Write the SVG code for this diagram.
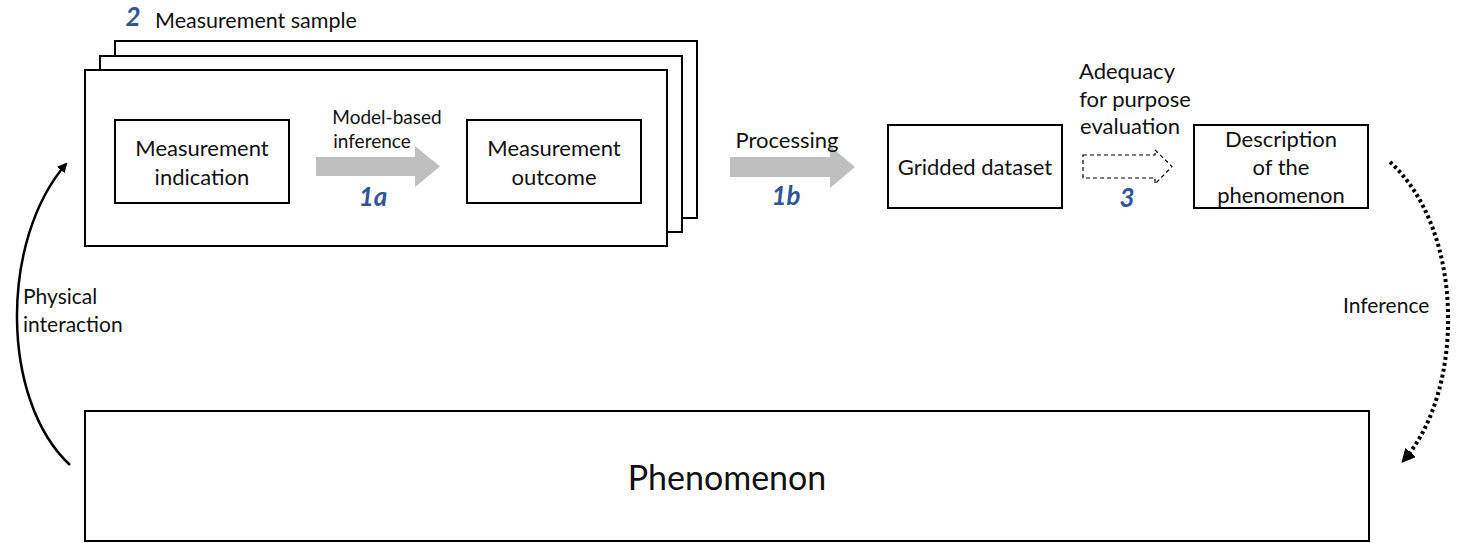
<svg xmlns="http://www.w3.org/2000/svg" width="1463" height="543" viewBox="0 0 1463 543">
<style>
text{font-family:Lato,"Open Sans",sans-serif;fill:#111;}
.t{font-size:22px;text-anchor:middle;}
.l{font-size:21px;}
.num{font-size:26px;font-weight:bold;font-style:italic;fill:#2F5597;text-anchor:middle;}
.box{fill:#fff;stroke:#000;stroke-width:2;}
.gray{fill:#BFBFBF;}
</style>
<defs>
<marker id="ah" markerWidth="10" markerHeight="10" refX="8" refY="5" orient="auto" markerUnits="userSpaceOnUse"><path d="M0,0 L10,5 L0,10 z" fill="#000"/></marker>
<marker id="ah2" markerWidth="14" markerHeight="14" refX="10" refY="7" orient="auto" markerUnits="userSpaceOnUse"><path d="M0,0 L14,7 L0,14 z" fill="#000"/></marker>
</defs>
<g id="sample">
<rect class="box" x="115" y="41" width="582" height="177"/>
<rect class="box" x="100" y="56" width="582" height="176"/>
<rect class="box" x="85" y="70" width="582" height="176"/>
<text class="num" x="133" y="26">2</text>
<text class="l" x="155" y="28" style="font-size:21.5px">Measurement sample</text>
</g>
<g id="indication">
<rect class="box" x="115" y="120" width="174" height="83"/>
<text class="t" x="202" y="156">Measurement</text>
<text class="t" x="202" y="185">indication</text>
</g>
<g id="outcome">
<rect class="box" x="467" y="120" width="174" height="83"/>
<text class="t" x="554" y="156">Measurement</text>
<text class="t" x="554" y="185">outcome</text>
</g>
<g id="gridded">
<rect class="box" x="888" y="125" width="174" height="83"/>
<text class="t" x="975" y="175">Gridded dataset</text>
</g>
<g id="description">
<rect class="box" x="1194" y="125" width="174" height="83"/>
<text class="t" x="1281" y="147">Description</text>
<text class="t" x="1281" y="175">of the</text>
<text class="t" x="1281" y="203">phenomenon</text>
</g>
<g id="phenomenon">
<rect class="box" x="85" y="411" width="1284" height="130"/>
<text x="727" y="490" style="font-size:34px;text-anchor:middle">Phenomenon</text>
</g>
<g id="connectors">
<path class="gray" d="M316,157 H415 V146 L440,166.5 L415,187 V176 H316 z"/>
<text class="t" x="387" y="124" style="font-size:19px">Model-based</text>
<text class="t" x="372" y="148" style="font-size:19px">inference</text>
<text class="num" x="373" y="206">1a</text>
<path class="gray" d="M730,157 H830 V146 L855,167 L830,188 V177 H730 z"/>
<text class="t" x="787" y="148">Processing</text>
<text class="num" x="786" y="205">1b</text>
<path d="M1083,155 H1155 V150 L1172,166.5 L1155,184 V178 H1083 z" fill="none" stroke="#000" stroke-width="1.2" stroke-dasharray="4,3"/>
<text class="t" x="1127" y="79">Adequacy</text>
<text class="t" x="1135" y="107">for purpose</text>
<text class="t" x="1130" y="134">evaluation</text>
<text class="num" x="1127" y="207">3</text>
<path d="M70,465 C0,400 0,240 66,164" fill="none" stroke="#000" stroke-width="2.5" marker-end="url(#ah)"/>
<text class="l" x="23" y="304">Physical</text>
<text class="l" x="23" y="332">interaction</text>
<path d="M1390,162 C1465,230 1465,390 1404,460" fill="none" stroke="#000" stroke-width="4" stroke-dasharray="3,3" marker-end="url(#ah2)"/>
<text class="l" x="1343" y="313">Inference</text>
</g>
</svg>
